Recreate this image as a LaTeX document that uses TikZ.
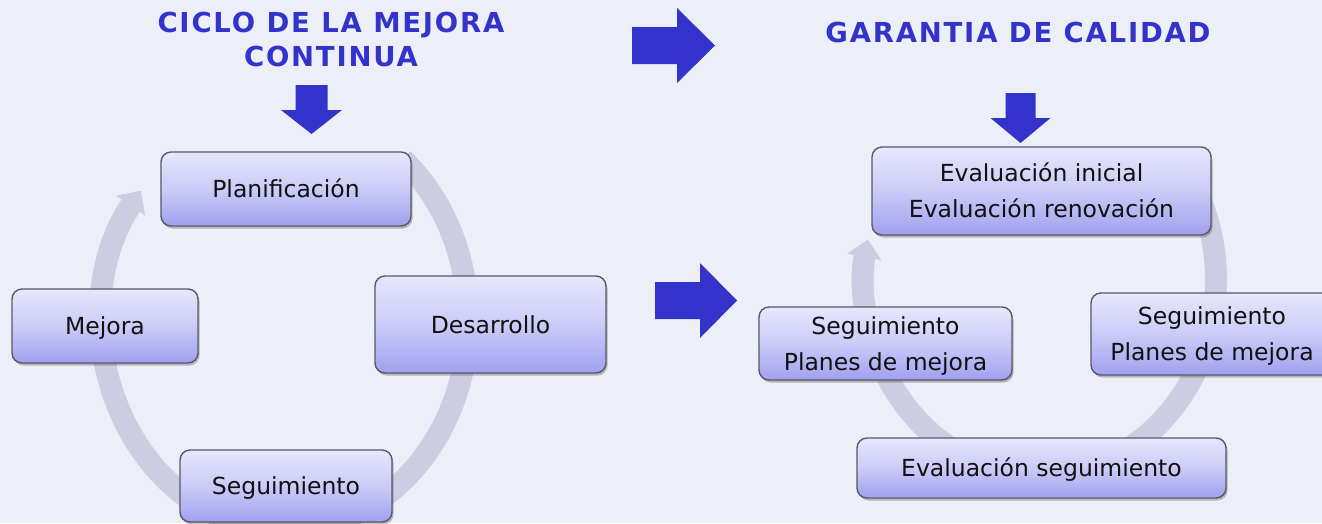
\documentclass[tikz,border=0pt]{standalone}
\usepackage{fontspec}
\setmainfont{DejaVu Sans}
\newfontfamily\titlefont{DejaVu Sans}[LetterSpace=6.5]
\usetikzlibrary{arrows.meta,shadows}
\definecolor{bgc}{RGB}{236,239,247}
\definecolor{ringc}{RGB}{204,205,226}
\definecolor{boxtop}{RGB}{231,231,252}
\definecolor{boxmid}{RGB}{203,203,248}
\definecolor{boxbot}{RGB}{160,160,239}
\definecolor{boxline}{RGB}{88,88,104}
\definecolor{titleblue}{RGB}{51,51,204}
\definecolor{txtc}{RGB}{17,17,17}
\begin{document}
\begin{tikzpicture}[x=1pt,y=-1pt,
  stepbox/.style={draw=boxline, line width=1.4pt, rounded corners=10pt,
    top color=boxtop, bottom color=boxbot, middle color=boxmid,
    inner sep=0pt,
    drop shadow={shadow xshift=1.5pt, shadow yshift=-2.5pt, opacity=0.35, fill=black!70}},
  lbl/.style={text=txtc, inner sep=0pt, anchor=base, font=\fontsize{23.5}{36}\selectfont},
  ttl/.style={text=titleblue, inner sep=0pt, anchor=base, font=\titlefont\bfseries\fontsize{27.5}{34}\selectfont},
  ring/.style={draw=ringc, line width=22pt, -{Triangle[width=34pt,length=18pt]}},
  blockarrow/.style={fill=titleblue}
]
\clip (0,0) rectangle (1322,523);
\fill[bgc] (0,0) rectangle (1322,523);

% ---------- left cycle ----------
\coordinate (ls) at ({285+183*cos(-50)},{320+210*sin(-50)});
\draw[ring] (ls) arc[start angle=-50, end angle=218, x radius=183, y radius=210];

\node[stepbox, minimum width=250pt, minimum height=74pt] (plan) at (286,189) {};
\node[stepbox, minimum width=231pt, minimum height=97pt] (desa) at (490.5,324.5) {};
\node[stepbox, minimum width=186pt, minimum height=74pt] (mejo) at (105,326) {};
\node[stepbox, minimum width=212pt, minimum height=72pt] (segu) at (286,486) {};

\node[lbl, yshift=-8.5pt] (tplan) at (plan.center) {Planificación};
\node[lbl, yshift=-8.5pt] (tdesa) at (desa.center) {Desarrollo};
\node[lbl, yshift=-8.5pt] (tmejo) at (mejo.center) {Mejora};
\node[lbl, yshift=-8.5pt] (tsegu) at (segu.center) {Seguimiento};

% ---------- right cycle ----------
\coordinate (rs) at ({1040+176*cos(-35)},{280+195*sin(-35)});
\draw[ring] (rs) arc[start angle=-35, end angle=192, x radius=176, y radius=195];

\node[stepbox, minimum width=339pt, minimum height=88pt] (evin) at (1041.5,191) {};
\node[stepbox, minimum width=253pt, minimum height=73pt] (spl) at (885.5,343.5) {};
\node[stepbox, minimum width=242pt, minimum height=82pt] (spr) at (1212,334) {};
\node[stepbox, minimum width=369pt, minimum height=60pt] (evse) at (1041.5,468) {};

\node[lbl, yshift=9.5pt] (tevin1) at (evin.center) {Evaluación inicial};
\node[lbl, yshift=-26.5pt] (tevin2) at (evin.center) {Evaluación renovación};
\node[lbl, yshift=9.5pt] (tspl1) at (spl.center) {Seguimiento};
\node[lbl, yshift=-26.5pt] (tspl2) at (spl.center) {Planes de mejora};
\node[lbl, yshift=9.5pt] (tspr1) at (spr.center) {Seguimiento};
\node[lbl, yshift=-26.5pt] (tspr2) at (spr.center) {Planes de mejora};
\node[lbl, yshift=-8.5pt] (tevse) at (evse.center) {Evaluación seguimiento};

% ---------- titles ----------
\node[ttl] (title1a) at (331,32) {CICLO DE LA MEJORA};
\node[ttl] (title1b) at (331,66) {CONTINUA};
\node[ttl] (title2) at (1018,42) {GARANTIA DE CALIDAD};

% ---------- block arrows ----------
\fill[blockarrow] (295.5,85) -- (327.5,85) -- (327.5,110) -- (342,110) -- (311.5,134)
  -- (281,110) -- (295.5,110) -- cycle;
\fill[blockarrow] (1005.5,93) -- (1035.5,93) -- (1035.5,118) -- (1050.5,118) -- (1020.5,143)
  -- (990.5,118) -- (1005.5,118) -- cycle;
\fill[blockarrow] (632,27) -- (677,27) -- (677,8) -- (715,45.5) -- (677,83) -- (677,64)
  -- (632,64) -- cycle;
\fill[blockarrow] (655,282) -- (700,282) -- (700,263) -- (737,300.5) -- (700,338) -- (700,319)
  -- (655,319) -- cycle;
\end{tikzpicture}
\end{document}
